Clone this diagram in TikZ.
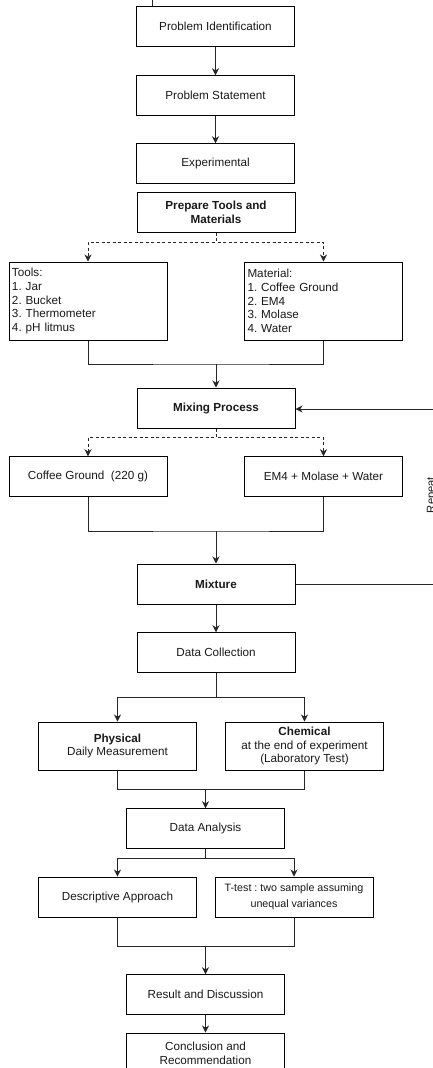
\documentclass[tikz,border=0pt]{standalone}
\usepackage{fontspec}
\setmainfont{Liberation Sans}
\usetikzlibrary{arrows.meta,calc}
\frenchspacing
\tikzset{
  box/.style={draw=black, line width=1pt, minimum width=157.5pt, minimum height=39.5pt,
    inner sep=0pt, align=center, font=\fontsize{11.7}{14}\selectfont, text=black!90},
  listbox/.style={draw=black, line width=1pt, minimum width=158pt, minimum height=78pt,
    inner xsep=3pt, inner ysep=0pt, text width=152pt, align=left,
    font=\fontsize{11.7}{13.7}\selectfont, text=black!90},
  conn/.style={line width=1pt, draw=black!85},
  arr/.style={conn, -{Stealth[length=7pt, width=7pt, inset=2.2pt]}},
  dsh/.style={dash pattern=on 3pt off 2.5pt},
}
\begin{document}
\begin{tikzpicture}[x=1pt, y=-1pt]
\useasboundingbox (0,0) rectangle (433,1068);

\node[box] (pid) at (215.5,26.5) {Problem Identification};
\node[box] (pst) at (215.5,95.5) {Problem Statement};
\node[box] (exp) at (215.5,163.5) {Experimental};
\node[box, minimum width=158pt] (prep) at (216,212.5) {\textbf{Prepare Tools and}\\\textbf{Materials}};
\node[listbox] (tools) at (88,301) {Tools:\\1. Jar\\2. Bucket\\3. Thermometer\\4. pH litmus};
\node[listbox] (mat) at (323.5,301) {Material:\\1. Coffee Ground\\2. EM4\\3. Molase\\4. Water};
\node[box, minimum width=158pt, minimum height=40pt] (mix) at (216,408) {\textbf{Mixing Process}};
\node[box, minimum width=158pt] (cg) at (88,476.5) {Coffee Ground\ \ (220 g)};
\node[box] (em) at (323.5,476.5) {EM4 + Molase + Water};
\node[box, minimum width=158pt, minimum height=40pt] (mixt) at (216,584) {\textbf{Mixture}};
\node[box, minimum width=158pt] (dc) at (216,652.5) {Data Collection};
\node[box, minimum height=48pt, font=\fontsize{11.7}{13.7}\selectfont] (phys) at (117.5,746) {\textbf{Physical}\\Daily Measurement};
\node[box, minimum height=48pt, font=\fontsize{11.7}{13.5}\selectfont] (chem) at (304.5,746) {\textbf{Chemical}\\at the end of experiment\\(Laboratory Test)};
\node[box] (da) at (205.5,828.5) {Data Analysis};
\node[box, minimum height=40pt] (desc) at (117.5,897) {Descriptive Approach};
\node[box, minimum width=158pt, minimum height=40pt, font=\fontsize{10.7}{16}\selectfont] (tt) at (294,897) {T-test : two sample assuming\\unequal variances};
\node[box] (res) at (205.5,994.5) {Result and Discussion};
\node[box, minimum height=40pt] (conc) at (205.5,1053) {Conclusion and\\Recommendation};

\node[rotate=90, inner sep=0pt, font=\fontsize{11.2}{13}\selectfont, text=black!90] (rep) at (432,495) {Repeat};

% top stub
\coordinate (t0) at (152,-5);
\draw[conn] (t0) -- (t0 |- pid.north);

\draw[arr] (pid) -- (pst);
\draw[arr] (pst) -- (exp);

\draw[arr, dsh] (prep.south) -- ++(0,9.5) -| (tools.north);
\draw[arr, dsh] (prep.south) -- ++(0,9.5) -| (mat.north);

\coordinate (j1) at (216,364);
\draw[conn] (tools.south) |- (j1) -| (mat.south);
\draw[arr] (j1) -- (mix.north);

\draw[arr, dsh] (mix.south) -- ++(0,9) -| (cg.north);
\draw[arr, dsh] (mix.south) -- ++(0,9) -| (em.north);

\coordinate (j2) at (216,531);
\draw[conn] (cg.south) |- (j2) -| (em.south);
\draw[arr] (j2) -- (mixt.north);

\coordinate (r1) at (460,584);
\coordinate (r2) at (460,409);
\draw[arr] (mixt.east) -- (r1) -- (r2) -- (mix.east |- r2);

\draw[arr] (mixt) -- (dc);

\draw[arr] (dc.south) -- ++(0,25) -| (phys.north);
\draw[arr] (dc.south) -- ++(0,25) -| (chem.north);

\coordinate (j3) at (205.5,789);
\draw[conn] (phys.south) |- (j3) -| (chem.south);
\draw[arr] (j3) -- (da.north);

\draw[arr] (da.south) -- ++(0,10) -| (desc.north);
\draw[arr] (da.south) -- ++(0,10) -| (tt.north);

\coordinate (j4) at (205.5,946);
\draw[conn] (desc.south) |- (j4) -| (tt.south);
\draw[arr] (j4) -- (res.north);

\draw[arr] (res) -- (conc);
\end{tikzpicture}
\end{document}
